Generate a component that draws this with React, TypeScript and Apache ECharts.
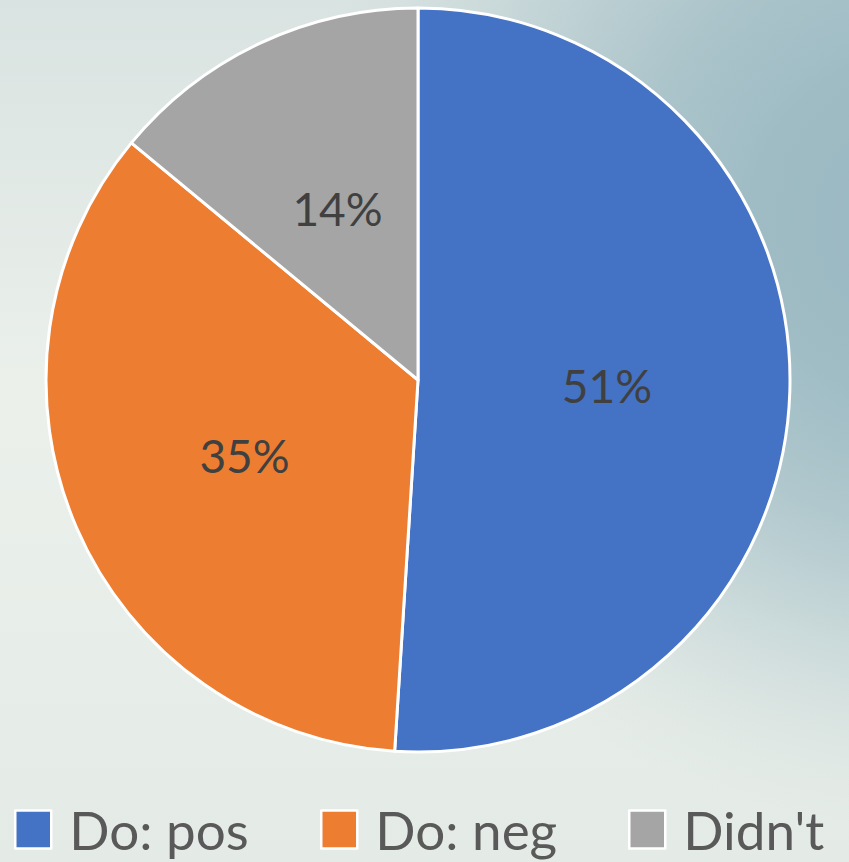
import React, { useEffect, useRef } from "react";
import * as echarts from "echarts";

const categories: string[] = ["Do: pos", "Do: neg", "Didn't"];
const values: number[] = [51, 35, 14];
const colors: string[] = ["#4472C4", "#ED7D31", "#A5A5A5"];
const legendLefts: number[] = [14, 320, 628];

export default function App() {
  const ref = useRef<HTMLDivElement>(null);
  useEffect(() => {
    if (!ref.current) return;
    const chart = echarts.init(ref.current, undefined, { renderer: "svg" });
    const blobStops = [
      { offset: 0, color: "rgba(152,183,193,1)" },
      { offset: 0.3, color: "rgba(152,183,193,0.9)" },
      { offset: 0.5, color: "rgba(152,183,193,0.7)" },
      { offset: 0.65, color: "rgba(152,183,193,0.45)" },
      { offset: 0.8, color: "rgba(152,183,193,0.2)" },
      { offset: 0.92, color: "rgba(152,183,193,0.05)" },
      { offset: 1, color: "rgba(152,183,193,0)" },
    ];
    const option: any = {
      animation: false,
      backgroundColor: new echarts.graphic.LinearGradient(0, 0, 0, 1, [
        { offset: 0, color: "#d9e3e1" },
        { offset: 0.45, color: "#ebf0eb" },
        { offset: 1, color: "#e4ebe6" },
      ]),
      graphic: [
        {
          type: "circle",
          x: 940,
          y: 230,
          scaleX: 650 / 600,
          scaleY: 1,
          silent: true,
          z: -10,
          shape: { cx: 0, cy: 0, r: 600 },
          style: { fill: new echarts.graphic.RadialGradient(0, 0, 600, blobStops, true) },
        },
      ],
      legend: categories.map((c, i) => ({
        data: [c],
        left: legendLefts[i],
        top: 803,
        padding: 0,
        orient: "horizontal",
        icon: "rect",
        itemWidth: 36,
        itemHeight: 38,
        itemStyle: { borderColor: "#ffffff", borderWidth: 2.5 },
        textStyle: {
          fontFamily: "Lato",
          fontSize: 53,
          color: "#595959",
          padding: [0, 0, 0, 13],
        },
        selectedMode: false,
      })),
      series: [
        {
          type: "pie",
          center: [418, 380],
          radius: [0, 372],
          startAngle: 90,
          clockwise: true,
          avoidLabelOverlap: false,
          itemStyle: { borderColor: "#ffffff", borderWidth: 3 },
          label: {
            show: true,
            position: "inside",
            formatter: (p: any) => Math.round(p.percent) + "%",
            fontFamily: "Lato",
            fontSize: 46,
            color: "#404040",
          },
          labelLine: { show: false },
          emphasis: { disabled: true },
          data: categories.map((c, i) => ({
            name: c,
            value: values[i],
            itemStyle: { color: colors[i] },
          })),
        },
      ],
    };
    chart.setOption(option);
    return () => chart.dispose();
  }, []);
  return (
    <div
      ref={ref}
      style={{ position: "fixed", left: 0, top: 0, width: 849, height: 862 }}
    />
  );
}
